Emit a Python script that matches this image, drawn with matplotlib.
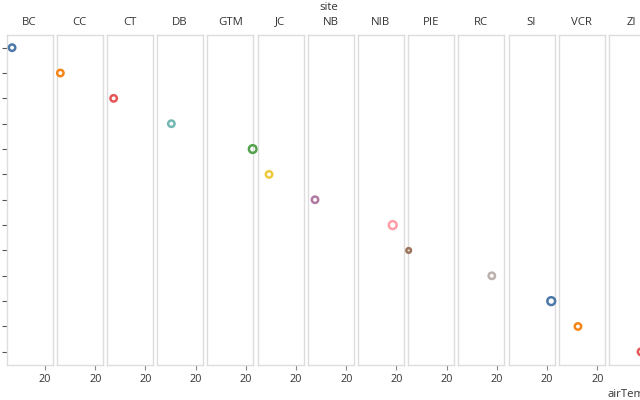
import matplotlib
matplotlib.use("Agg")
import matplotlib.pyplot as plt

plt.rcParams['font.family'] = ['Open Sans', 'DejaVu Sans']

sites = ["BC", "CC", "CT", "DB", "GTM", "JC", "NB", "NIB", "PIE", "RC", "SI", "VCR", "ZI"]
air_temp = [2.9, 1.9, 3.5, 7.4, 23.6, 6.0, 3.8, 18.1, 0.3, 17.4, 22.2, 10.0, 16.8]
point_size = [32, 32, 32, 32, 46, 32, 32, 48, 17, 32, 48, 32, 36]
colors = ["#4c78a8", "#f58518", "#e45756", "#72b7b2", "#54a24b", "#eeca3b",
          "#b279a2", "#ff9da6", "#9d755d", "#bab0ac", "#4c78a8", "#f58518", "#e45756"]
x_ticks = [20]

W, H = 640, 400
fig = plt.figure(figsize=(W / 100, H / 100), dpi=100)

def px(x, y, w, h):
    return [x / W, 1 - (y + h) / H, w / W, h / H]

left0, step, pw = 6.5, 50.2, 46
top, bottom = 35.0, 364.5
ph = bottom - top

for i, site in enumerate(sites):
    ax = fig.add_axes(px(left0 + step * i, top, pw, ph))
    ax.set_xlim(0, 23.9)
    ax.set_ylim(len(sites) - 0.5, -0.5)
    for s in ax.spines.values():
        s.set_color("#dddddd")
        s.set_linewidth(1.0)
    ax.set_xticks(x_ticks)
    # the last column's tick label lies beyond the visible area in the reference
    if i == len(sites) - 1:
        ax.set_xticklabels([""])
    else:
        ax.set_xticklabels([str(t) for t in x_ticks])
    ax.tick_params(axis='x', length=3.6, width=0.8, color='#888888',
                   labelsize=7.8, labelcolor='#333333', pad=3.5)
    if i == 0:
        # site labels of the y axis fall outside the visible area in the reference
        ax.set_yticks(range(len(sites)))
        ax.set_yticklabels([])
        ax.tick_params(axis='y', length=3.6, width=0.8, color='#555555')
    else:
        ax.set_yticks([])
    ax.scatter([air_temp[i]], [i], s=[(2 * (point_size[i] / 3.14159) ** 0.5 * 0.72) ** 2],
               facecolors='none', edgecolors=colors[i], linewidths=1.8,
               clip_on=False, zorder=5)
    ax.set_title(site, fontsize=8.2, color='#333333', pad=7.5)
    ax.set_facecolor('none')

fig.text(329 / W, 1 - 7 / H, "site", ha='center', va='center', fontsize=8.2, color='#333333')
fig.text(608 / W, 1 - 394 / H, "airTemp", ha='left', va='center', fontsize=8.2, color='#333333')

fig.savefig("out.png", dpi=100)
